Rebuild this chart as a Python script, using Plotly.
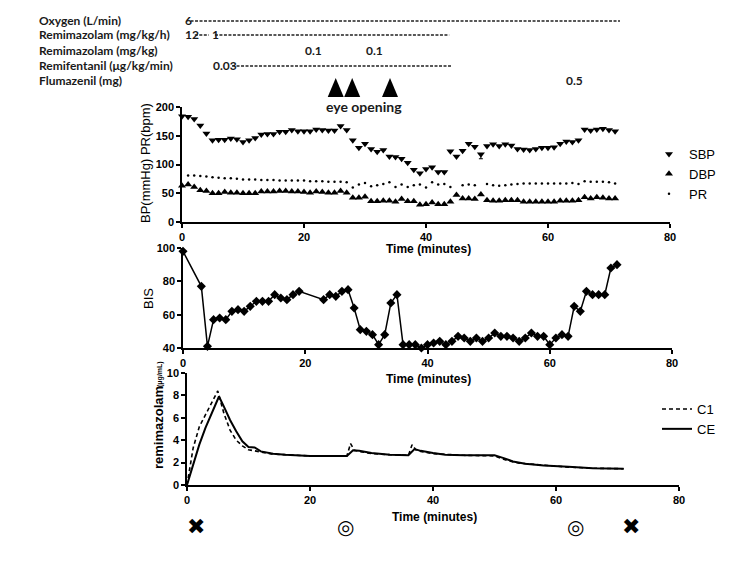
import plotly.graph_objects as go

# the page body keeps an 8px margin, so the figure is 8px smaller than the window
W, H = 742, 564
OFF = 8


def px(sx):
    return (sx - OFF) / W


def py(sy):
    return 1 - (sy - OFF) / H


# ---- vital signs (top panel) ----
bp_time = list(range(0, 72))
sbp = [184, 183, 179, 168, 154, 142, 143, 143, 145, 144, 139, 142, 146, 152, 153, 153, 157, 157, 160, 158,
       158, 158, 161, 160, 159, 159, 167, 160, 142, 129, 136, 127, 122, 125, 114, 113, 110, 103, 91, 85,
       92, 95, 87, 87, 123, 114, 124, 136, 131, 118, 132, 135, 132, 135, 133, 127, 126, 125, 127, 129,
       129, 130, 136, 140, 139, 142, 161, 159, 161, 162, 160, 158]
dbp = [63, 65, 61, 55, 54, 50, 50, 52, 51, 51, 50, 50, 50, 53, 53, 53, 54, 54, 53, 53,
       52, 51, 53, 52, 51, 51, 54, 51, 42, 42, 44, 36, 36, 37, 37, 35, 40, 36, 36, 30,
       31, 34, 31, 31, 35, 47, 41, 41, 40, 48, 38, 37, 37, 38, 38, 38, 35, 35, 35, 35,
       35, 35, 37, 37, 37, 38, 43, 41, 43, 42, 41, 41]
sbp_err = [0] * 72
sbp_err[49] = 8
pr_time = list(range(1, 72))
pr = [81, 81, 80, 79, 78, 77, 76, 76, 75, 74, 74, 74, 73, 73, 73, 72, 72, 72, 72, 72,
      71, 71, 71, 70, 70, 70, 69, 60, 65, 68, 62, 64, 66, 69, 61, 65, 61, 64, 65, 60,
      69, 65, 66, 61, None, 64, 65, 64, None, 66, 64, 63, 64, 65, 66, 67, 67, 67, 67, 67,
      67, 67, 67, 68, 66, 71, 70, 70, 70, 69, 67]

# ---- BIS (middle panel) ----
bis_time = [0, 3, 4, 5, 6, 7, 8, 9, 10, 11, 12, 13, 14, 15, 16, 17, 18, 19, 23, 24, 25, 26, 27, 28, 29,
            30, 31, 32, 33, 34, 35, 36, 37, 38, 39, 40, 41, 42, 43, 44, 45, 46, 47, 48, 49, 50, 51, 52,
            53, 54, 55, 56, 57, 58, 59, 60, 61, 62, 63, 64, 65, 66, 67, 68, 69, 70, 71]
bis = [98, 77, 41, 57, 58, 57, 62, 63, 62, 65, 68, 68, 68, 72, 70, 69, 72, 74, 69, 72, 71, 74, 75, 64, 51,
       50, 48, 42, 48, 67, 72, 42, 42, 42, 40, 42, 43, 44, 42, 44, 47, 46, 44, 46, 44, 46, 49, 47,
       47, 46, 44, 46, 49, 47, 47, 42, 46, 48, 47, 65, 62, 74, 72, 72, 72, 88, 90]

# ---- remimazolam concentration (bottom panel) ----
c1_time = [0, 0.3, 1, 2, 3, 4, 5, 6, 7, 8, 9, 10, 11, 12, 14, 20, 26, 26.6, 27.2, 28, 30, 33, 36,
           36.6, 37.2, 38, 40, 45, 50, 51, 52, 54, 58, 62, 66, 71]
c1 = [0, 0.9, 3.3, 5.2, 6.3, 7.3, 8.4, 6.4, 4.9, 4.0, 3.5, 3.15, 3.05, 2.9, 2.75, 2.6, 2.6, 3.7, 3.1,
      3.0, 2.8, 2.7, 2.65, 3.6, 3.15, 3.0, 2.8, 2.65, 2.6, 2.4, 2.2, 1.95, 1.75, 1.6, 1.5, 1.45]
ce_time = [0, 1, 2, 3, 4, 5.2, 6, 7, 8, 9, 10, 11, 12, 14, 16, 20, 26, 27, 28, 30, 33, 36, 37, 38,
           40, 42, 45, 50, 51.5, 53, 55, 58, 62, 66, 71]
ce = [0, 1.8, 3.6, 5.1, 6.4, 7.9, 7.0, 5.8, 4.8, 3.9, 3.4, 3.35, 3.0, 2.8, 2.7, 2.6, 2.6, 3.1, 3.05,
      2.85, 2.7, 2.65, 3.2, 3.05, 2.85, 2.7, 2.65, 2.65, 2.4, 2.1, 1.9, 1.75, 1.62, 1.5, 1.45]

# ---- drug timeline (minutes on the top axis) ----
row_labels = ['Oxygen (L/min)', 'Remimazolam (mg/kg/h)', 'Remimazolam (mg/kg)',
              'Remifentanil (μg/kg/min)', 'Flumazenil (mg)']
row_y = [20, 34, 50, 65, 81]
dose_text = [['6'], ['12', '1'], ['0.1', '0.1'], ['0.03'], ['0.5']]
dose_time = [[0.1], [0.1, 4.6], [21.6, 31.5], [4.8], [64.4]]
dose_anchor = [['left'], ['left', 'left'], ['center', 'center'], ['left'], ['center']]
dash_spans = [[(1.4, 71.8)], [(2.1, 4.4), (5.4, 43.8)], [], [(8.2, 44.1)], []]
eye_open = [25.2, 27.9, 34.1]
cross_time = [1.5, 72.2]
target_time = [25.7, 63.2]

fig = go.Figure()

fig.add_trace(go.Scatter(x=bp_time, y=sbp, mode='markers', name='SBP', cliponaxis=False,
                         marker=dict(symbol='triangle-down', size=7, color='black'),
                         error_y=dict(type='data', symmetric=False, array=[0] * 72, arrayminus=sbp_err,
                                      color='black', thickness=1, width=2),
                         xaxis='x', yaxis='y', legend='legend'))
fig.add_trace(go.Scatter(x=bp_time, y=dbp, mode='markers', name='DBP', cliponaxis=False,
                         marker=dict(symbol='triangle-up', size=7, color='black'),
                         xaxis='x', yaxis='y', legend='legend'))
fig.add_trace(go.Scatter(x=pr_time, y=pr, mode='markers', name='PR', cliponaxis=False,
                         marker=dict(symbol='circle', size=2.5, color='black'),
                         xaxis='x', yaxis='y', legend='legend'))

fig.add_trace(go.Scatter(x=bis_time, y=bis, mode='lines+markers', showlegend=False, cliponaxis=False,
                         line=dict(color='black', width=1.5),
                         marker=dict(symbol='diamond', size=7, color='black'),
                         xaxis='x2', yaxis='y2'))

fig.add_trace(go.Scatter(x=c1_time, y=c1, mode='lines', name='C1', cliponaxis=False,
                         line=dict(color='black', width=1.6, dash='4px,3px'),
                         xaxis='x3', yaxis='y3', legend='legend2'))
fig.add_trace(go.Scatter(x=ce_time, y=ce, mode='lines', name='CE', cliponaxis=False,
                         line=dict(color='black', width=2),
                         xaxis='x3', yaxis='y3', legend='legend2'))

tickfont = dict(family='Arial', size=11, color='black', weight='bold')
axis_common = dict(showgrid=False, zeroline=False, showline=True, linecolor='black', linewidth=1.5,
                   ticks='outside', ticklen=4, tickwidth=1.5, tickcolor='black', tickfont=tickfont,
                   automargin=False)

fig.update_layout(
    width=W, height=H,
    margin=dict(l=0, r=0, t=0, b=0, pad=0, autoexpand=False),
    plot_bgcolor='white', paper_bgcolor='white',
    xaxis=dict(domain=[px(182), px(670)], range=[0, 80], tickvals=[0, 20, 40, 60, 80], anchor='y', **axis_common),
    yaxis=dict(domain=[py(222), py(107)], range=[0, 200], tickvals=[0, 50, 100, 150, 200],
               anchor='x', **axis_common),
    xaxis2=dict(domain=[px(183), px(672)], range=[0, 80], tickvals=[0, 20, 40, 60, 80], anchor='y2', **axis_common),
    yaxis2=dict(domain=[py(348), py(248)], range=[40, 100], tickvals=[40, 60, 80, 100],
                anchor='x2', **axis_common),
    xaxis3=dict(domain=[px(187), px(679)], range=[0, 80], tickvals=[0, 20, 40, 60, 80], anchor='y3', **axis_common),
    yaxis3=dict(domain=[py(485), py(373)], range=[0, 10], tickvals=[0, 2, 4, 6, 8, 10],
                anchor='x3', **axis_common),
    legend=dict(x=px(649), y=py(139), xanchor='left', yanchor='top', bgcolor='rgba(0,0,0,0)',
                font=dict(family='Arial', size=13, color='black'), tracegroupgap=0),
    legend2=dict(x=px(657), y=py(394), xanchor='left', yanchor='top', bgcolor='rgba(0,0,0,0)',
                 font=dict(family='Arial', size=13, color='black'), tracegroupgap=0),
    showlegend=True,
)

ann = []
shapes = []
label_font = dict(family='Lato', size=12, color='#1a1a1a', weight='bold')


def note(text, x, y, xref='paper', xanchor='center', **kw):
    ann.append(dict(text=text, x=x, y=y, xref=xref, yref='paper', xanchor=xanchor,
                    yanchor='middle', showarrow=False, **kw))


# timeline rows
for i, lab in enumerate(row_labels):
    yp = py(row_y[i])
    note(lab, px(37), yp, xanchor='left', font=label_font)
    for txt, t, a in zip(dose_text[i], dose_time[i], dose_anchor[i]):
        note(txt, t, yp, xref='x', xanchor=a, font=label_font)
    for t0, t1 in dash_spans[i]:
        shapes.append(dict(type='line', xref='x', yref='paper', x0=t0, x1=t1,
                           y0=py(row_y[i] + 1), y1=py(row_y[i] + 1),
                           line=dict(color='#222', width=1.4, dash='3px,1.5px')))

# eye opening arrowheads
for t in eye_open:
    shapes.append(dict(type='path', xref='x', yref='paper', xsizemode='pixel', ysizemode='pixel',
                       xanchor=t, yanchor=py(97), path='M-8,0 L8,0 L0,19 Z',
                       fillcolor='black', line=dict(color='black', width=0)))
note('eye opening', px(364), py(107), font=dict(family='Lato', size=14, color='#1a1a1a', weight='bold'))

# axis titles
for xc, yc in [(428, 249), (428, 379), (434, 517)]:
    note('Time (minutes)', px(xc), py(yc), font=dict(family='Arial', size=12, color='black', weight='bold'))
note('BP(mmHg) PR(bpm)', px(145), py(163), textangle=-90,
     font=dict(family='Arial', size=13, color='black'))
note('BIS', px(148), py(299), textangle=-90, font=dict(family='Arial', size=13, color='black'))
note('remimazolam', px(158), py(428), textangle=-90,
     font=dict(family='Arial', size=13, color='black', weight='bold'))
note('(μg/mL)', px(160), py(374), textangle=-90,
     font=dict(family='Arial', size=7, color='black', weight='bold'))

# event symbols under the bottom axis
for t in cross_time:
    note('✖', t, py(526), xref='x3', font=dict(family='DejaVu Sans', size=22, color='black'))
for t in target_time:
    note('◎', t, py(527), xref='x3', font=dict(family='DejaVu Sans', size=20, color='black'))

fig.update_layout(annotations=ann, shapes=shapes)

fig.write_html("out.html")
